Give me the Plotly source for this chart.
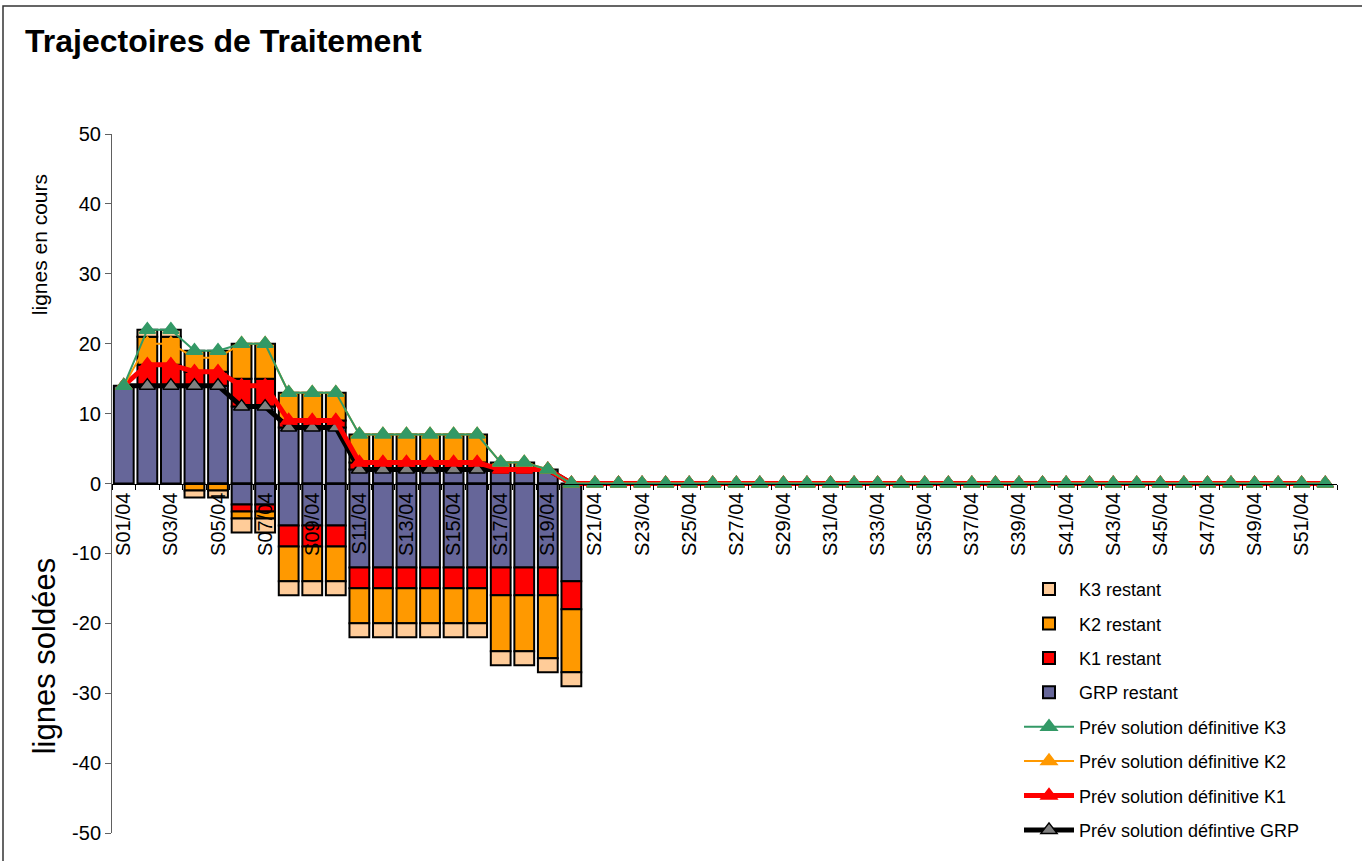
import plotly.graph_objects as go

weeks = ["S01/04", "S02/04", "S03/04", "S04/04", "S05/04", "S06/04", "S07/04", "S08/04",
         "S09/04", "S10/04", "S11/04", "S12/04", "S13/04", "S14/04", "S15/04", "S16/04",
         "S17/04", "S18/04", "S19/04", "S20/04", "S21/04", "S22/04", "S23/04", "S24/04",
         "S25/04", "S26/04", "S27/04", "S28/04", "S29/04", "S30/04", "S31/04", "S32/04",
         "S33/04", "S34/04", "S35/04", "S36/04", "S37/04", "S38/04", "S39/04", "S40/04",
         "S41/04", "S42/04", "S43/04", "S44/04", "S45/04", "S46/04", "S47/04", "S48/04",
         "S49/04", "S50/04", "S51/04", "S52/04"]

y_tick_values = [50, 40, 30, 20, 10, 0, -10, -20, -30, -40, -50]
y_tick_labels = ["50", "40", "30", "20", "10", "0", "-10", "-20", "-30", "-40", "-50"]

# lignes en cours (positive stacks)
grp_en_cours = [14, 14, 14, 14, 14, 11, 11, 8, 8, 8, 2, 2, 2, 2, 2, 2, 2, 2, 2, 0,
                0, 0, 0, 0, 0, 0, 0, 0, 0, 0, 0, 0, 0, 0, 0, 0,
                0, 0, 0, 0, 0, 0, 0, 0, 0, 0, 0, 0, 0, 0, 0, 0]
k1_en_cours = [0, 3, 3, 2, 2, 4, 4, 1, 1, 1, 1, 1, 1, 1, 1, 1, 0, 0, 0, 0,
               0, 0, 0, 0, 0, 0, 0, 0, 0, 0, 0, 0, 0, 0, 0, 0,
               0, 0, 0, 0, 0, 0, 0, 0, 0, 0, 0, 0, 0, 0, 0, 0]
k2_en_cours = [0, 4, 4, 3, 3, 5, 5, 4, 4, 4, 4, 4, 4, 4, 4, 4, 1, 1, 0, 0,
               0, 0, 0, 0, 0, 0, 0, 0, 0, 0, 0, 0, 0, 0, 0, 0,
               0, 0, 0, 0, 0, 0, 0, 0, 0, 0, 0, 0, 0, 0, 0, 0]
k3_en_cours = [0, 1, 1, 0, 0, 0, 0, 0, 0, 0, 0, 0, 0, 0, 0, 0, 0, 0, 0, 0,
               0, 0, 0, 0, 0, 0, 0, 0, 0, 0, 0, 0, 0, 0, 0, 0,
               0, 0, 0, 0, 0, 0, 0, 0, 0, 0, 0, 0, 0, 0, 0, 0]

# lignes soldées (negative stacks)
grp_soldees = [0, 0, 0, 0, 0, -3, -3, -6, -6, -6, -12, -12, -12, -12, -12, -12, -12, -12, -12, -14,
               0, 0, 0, 0, 0, 0, 0, 0, 0, 0, 0, 0, 0, 0, 0, 0,
               0, 0, 0, 0, 0, 0, 0, 0, 0, 0, 0, 0, 0, 0, 0, 0]
k1_soldees = [0, 0, 0, 0, 0, -1, -1, -3, -3, -3, -3, -3, -3, -3, -3, -3, -4, -4, -4, -4,
              0, 0, 0, 0, 0, 0, 0, 0, 0, 0, 0, 0, 0, 0, 0, 0,
              0, 0, 0, 0, 0, 0, 0, 0, 0, 0, 0, 0, 0, 0, 0, 0]
k2_soldees = [0, 0, 0, -1, -1, -1, -1, -5, -5, -5, -5, -5, -5, -5, -5, -5, -8, -8, -9, -9,
              0, 0, 0, 0, 0, 0, 0, 0, 0, 0, 0, 0, 0, 0, 0, 0,
              0, 0, 0, 0, 0, 0, 0, 0, 0, 0, 0, 0, 0, 0, 0, 0]
k3_soldees = [0, 0, 0, -1, -1, -2, -2, -2, -2, -2, -2, -2, -2, -2, -2, -2, -2, -2, -2, -2,
              0, 0, 0, 0, 0, 0, 0, 0, 0, 0, 0, 0, 0, 0, 0, 0,
              0, 0, 0, 0, 0, 0, 0, 0, 0, 0, 0, 0, 0, 0, 0, 0]

# prévisions (lines)
prev_k3 = [14, 22, 22, 19, 19, 20, 20, 13, 13, 13, 7, 7, 7, 7, 7, 7, 3, 3, 2, 0,
           0, 0, 0, 0, 0, 0, 0, 0, 0, 0, 0, 0, 0, 0, 0, 0,
           0, 0, 0, 0, 0, 0, 0, 0, 0, 0, 0, 0, 0, 0, 0, 0]
prev_k2 = [14, 20, 20, 18, 18, 20, 20, 13, 13, 13, 7, 7, 7, 7, 7, 7, 3, 3, 2, 0,
           0, 0, 0, 0, 0, 0, 0, 0, 0, 0, 0, 0, 0, 0, 0, 0,
           0, 0, 0, 0, 0, 0, 0, 0, 0, 0, 0, 0, 0, 0, 0, 0]
prev_k1 = [14, 17, 17, 16, 16, 14, 14, 9, 9, 9, 3, 3, 3, 3, 3, 3, 2, 2, 2, 0,
           0, 0, 0, 0, 0, 0, 0, 0, 0, 0, 0, 0, 0, 0, 0, 0,
           0, 0, 0, 0, 0, 0, 0, 0, 0, 0, 0, 0, 0, 0, 0, 0]
prev_grp = [14, 14, 14, 14, 14, 11, 11, 8, 8, 8, 2, 2, 2, 2, 2, 2, 2, 2, 2, 0,
            0, 0, 0, 0, 0, 0, 0, 0, 0, 0, 0, 0, 0, 0, 0, 0,
            0, 0, 0, 0, 0, 0, 0, 0, 0, 0, 0, 0, 0, 0, 0, 0]

FONT = "Liberation Sans, Arial, sans-serif"
C_GRP = "#666699"
C_K1 = "#FF0000"
C_K2 = "#FF9900"
C_K3 = "#FFCC99"


def nz(vals):
    return [v if v != 0 else None for v in vals]


fig = go.Figure()

bars = [
    ("GRP restant", "grp", C_GRP, grp_en_cours, grp_soldees, 4),
    ("K1 restant", "k1", C_K1, k1_en_cours, k1_soldees, 3),
    ("K2 restant", "k2", C_K2, k2_en_cours, k2_soldees, 2),
    ("K3 restant", "k3", C_K3, k3_en_cours, k3_soldees, 1),
]
for name, grp, col, pos, _, rank in bars:
    fig.add_trace(go.Bar(x=weeks, y=nz(pos), name=name, legendgroup=grp, legendrank=rank,
                         marker=dict(color=col, line=dict(color="black", width=2))))
for name, grp, col, _, neg, rank in bars:
    fig.add_trace(go.Bar(x=weeks, y=nz(neg), name=name, legendgroup=grp, showlegend=False,
                         marker=dict(color=col, line=dict(color="black", width=2))))

lines = [
    ("Prév solution défintive GRP", "lgrp", prev_grp, "black", 5, "#808080", "black", 8),
    ("Prév solution définitive K1", "lk1", prev_k1, "#FF0000", 5, "#FF0000", "#FF0000", 7),
    ("Prév solution définitive K2", "lk2", prev_k2, "#FF9900", 2, "#FF9900", "#FF9900", 6),
    ("Prév solution définitive K3", "lk3", prev_k3, "#339966", 2, "#339966", "#339966", 5),
]
for name, grp, vals, lc, lw, mc, mlc, rank in lines:
    fig.add_trace(go.Scatter(x=weeks, y=vals, name=name, mode="lines+markers",
                             legendgroup=grp, legendrank=rank,
                             line=dict(color=lc, width=lw),
                             marker=dict(symbol="triangle-up", size=14, color=mc,
                                         line=dict(color=mlc, width=1.5))))

L, T, W, H = 112, 134, 1225, 704


def px(x):
    return (x - L) / W


def py(y):
    return (T + H - y) / H


fig.update_layout(
    width=1362, height=861, autosize=False,
    margin=dict(l=L, r=1362 - L - W, t=T, b=861 - T - H, pad=0),
    paper_bgcolor="white", plot_bgcolor="white",
    barmode="relative", bargap=0.16,
    font=dict(family=FONT, color="black", size=18),
    title=dict(text="Trajectoires de Traitement", x=25 / 1362, xanchor="left",
               xref="container", y=1 - 41 / 861, yanchor="middle", yref="container",
               font=dict(family=FONT, size=32, weight=700, color="black")),
    xaxis=dict(type="category", anchor="free", position=0.5,
               showline=True, linecolor="black", linewidth=1,
               tickmode="linear", tick0=0, dtick=1,
               ticks="outside", ticklen=5, tickcolor="black", tickson="boundaries",
               ticklabelstep=2, tickangle=-90, tickfont=dict(size=20),
               showgrid=False, zeroline=False, range=[-0.5, 51.5]),
    yaxis=dict(range=[-50, 50], tickmode="array", tickvals=y_tick_values,
               ticktext=y_tick_labels, showgrid=False, zeroline=False,
               showline=True, linecolor="#606060", linewidth=1,
               ticks="outside", ticklen=6, tickcolor="#606060",
               tickfont=dict(size=20), domain=[0, 1]),
    legend=dict(x=px(1019), y=py(574), xanchor="left", yanchor="top",
                traceorder="grouped", tracegroupgap=8, itemwidth=50,
                font=dict(size=18), bgcolor="rgba(0,0,0,0)"),
    showlegend=True,
)

fig.add_annotation(text="lignes en cours", xref="paper", yref="paper",
                   x=px(39), y=py(246), xanchor="center", yanchor="middle",
                   textangle=-90, showarrow=False, font=dict(size=21))
fig.add_annotation(text="lignes soldées", xref="paper", yref="paper",
                   x=px(44), y=py(660), xanchor="center", yanchor="middle",
                   textangle=-90, showarrow=False, font=dict(size=31))

# outer chart frame
fig.add_shape(type="rect", xref="paper", yref="paper",
              x0=px(3), x1=px(1368), y0=py(5), y1=py(868),
              line=dict(color="#333333", width=1.5), layer="below")

fig.write_html("out.html", config={"displayModeBar": False},
               post_script="document.body.style.margin='0';")
